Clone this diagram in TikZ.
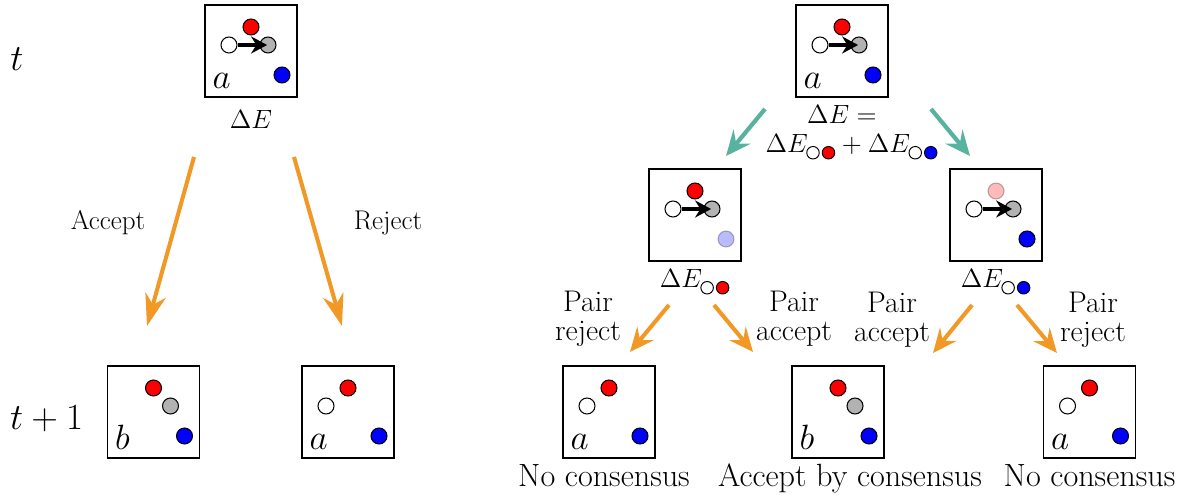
\documentclass[tikz,border=0pt]{standalone}
\usepackage{fix-cm}
\usepackage{amsmath}
\usetikzlibrary{calc}
\usetikzlibrary{arrows.meta}
\tikzset{>=latex}
\definecolor{floworange}{RGB}{242,152,36}
\definecolor{splitteal}{RGB}{88,178,160}
\colorlet{pairgray}{gray!60}

% two small circles used as a subscript
\newcommand{\pairsub}[1]{\tikz[baseline={(0,-0.08)}]{\draw[line width=0.55pt, fill=white] (0,0) circle (0.125); \draw[line width=0.55pt, fill=#1] (0.31,0) circle (0.125);}}

\tikzset{
  panel/.style={draw, line width=0.9pt, minimum size=1.84cm, inner sep=0pt},
  dot/.style={circle, draw, line width=0.6pt, minimum size=0.32cm, inner sep=0pt},
  move/.style={line width=2.2pt, -{Stealth[length=3.2mm, width=3.4mm]}, shorten >=0.5pt},
  bigflow/.style={floworange, line width=2.3pt, -{Stealth[length=6.4mm, width=4.2mm, inset=2mm]}},
  flow/.style={floworange, line width=2.3pt, -{Stealth[length=4.8mm, width=4.2mm, inset=1.7mm]}},
  split/.style={splitteal, line width=2.4pt, -{Stealth[length=5mm, width=4.4mm, inset=1.8mm]}},
  tag/.style={anchor=base west, inner sep=0pt, font=\fontsize{20}{24}\selectfont},
  tlabel/.style={inner sep=0pt, font=\fontsize{21}{25}\selectfont},
  dlabel/.style={anchor=base, inner sep=0pt, font=\fontsize{15}{18}\selectfont},
  choice/.style={inner sep=0pt, font=\fontsize{15.4}{18}\selectfont},
  pairlbl/.style={inner sep=0pt, align=center, font=\fontsize{17}{16.5}\selectfont},
  result/.style={anchor=base, inner sep=0pt, font=\fontsize{18.3}{21}\selectfont}
}

\begin{document}
\begin{tikzpicture}
                \useasboundingbox (0,0) rectangle (23.76,-10);

                % Panels
                \node[panel] (A)  at (5.02,-1.02)  {};
                \node[panel] (R)  at (16.84,-1.02) {};
                \node[panel] (ML) at (13.9,-4.3)   {};
                \node[panel] (MR) at (19.92,-4.3)  {};
                \node[panel] (B1) at (3.07,-8.24)  {};
                \node[panel] (B2) at (6.96,-8.24)  {};
                \node[panel] (C1) at (12.18,-8.24) {};
                \node[panel] (C2) at (16.76,-8.24) {};
                \node[panel] (C3) at (21.79,-8.24) {};

                % Particles
                \foreach \p in {A,R,ML,B1,B2,C1,C2,C3}
                    \node[dot, fill=red] (\p-r) at ($(\p)+(0,0.48)$) {};
                \foreach \p in {A,R,ML,MR,B2,C1,C3}
                    \node[dot, fill=white] (\p-w) at ($(\p)+(-0.44,0.12)$) {};
                \foreach \p in {A,R,ML,MR,B1,C2}
                    \node[dot, fill=pairgray] (\p-g) at ($(\p)+(0.34,0.12)$) {};
                \foreach \p in {A,R,MR,B1,B2,C1,C2,C3}
                    \node[dot, fill=blue] (\p-b) at ($(\p)+(0.62,-0.48)$) {};
                \node[dot, fill=blue, opacity=0.27] (ML-b) at ($(ML)+(0.62,-0.48)$) {};
                \node[dot, fill=red, opacity=0.27] (MR-r) at ($(MR)+(0,0.48)$) {};

                % Proposed move
                \foreach \p in {A,R,ML,MR}
                    \draw[move] (\p-w) -- (\p-g.center);

                % State letters
                \foreach \p/\l in {A/a,R/a,B1/b,B2/a,C1/a,C2/b,C3/a}
                    \node[tag] (\p-l) at ($(\p.south west)+(0.16,0.18)$) {$\l$};

                % Time labels
                \node[tlabel, anchor=base west] (tnow) at (0.2,-1.42) {$t$};
                \node[tlabel, anchor=base] (tnext) at (0.934,-8.58) {$t+1$};

                % Energy labels
                \node[dlabel] (dA) at ($(A.south)+(0,-0.62)$) {$\Delta E$};
                \node[dlabel] (dR) at ($(R.south)+(0,-0.52)$) {$\Delta E =$};
                \node[dlabel] (dRsum) at ($(R.south)+(0.2,-1.1)$)
                    {$\Delta E_{\pairsub{red}} + \Delta E_{\pairsub{blue}}$};
                \node[dlabel] (dML) at ($(ML.south)+(0,-0.52)$) {$\Delta E_{\pairsub{red}}$};
                \node[dlabel] (dMR) at ($(MR.south)+(0,-0.52)$) {$\Delta E_{\pairsub{blue}}$};

                % Left: plain move
                \coordinate (accS) at (3.88,-3.14);
                \coordinate (accE) at (2.94,-6.52);
                \coordinate (rejS) at (5.88,-3.14);
                \coordinate (rejE) at (6.84,-6.52);
                \draw[bigflow] (accS) -- (accE);
                \draw[bigflow] (rejS) -- (rejE);
                \node[choice] (acc) at (2.16,-4.46) {Accept};
                \node[choice] (rej) at (7.76,-4.46) {Reject};

                % Right: split into pairs
                \coordinate (splLS) at (15.3,-2.18);
                \coordinate (splLE) at (14.52,-3.12);
                \coordinate (splRS) at (18.62,-2.18);
                \coordinate (splRE) at (19.4,-3.12);
                \draw[split] (splLS) -- (splLE);
                \draw[split] (splRS) -- (splRE);

                \coordinate (p1S) at (13.38,-6.1);
                \coordinate (p1E) at (12.6,-7.04);
                \coordinate (p2S) at (14.28,-6.1);
                \coordinate (p2E) at (15.06,-7.04);
                \coordinate (p3S) at (19.44,-6.1);
                \coordinate (p3E) at (18.66,-7.06);
                \coordinate (p4S) at (20.34,-6.1);
                \coordinate (p4E) at (21.14,-7.06);
                \draw[flow] (p1S) -- (p1E);
                \draw[flow] (p2S) -- (p2E);
                \draw[flow] (p3S) -- (p3E);
                \draw[flow] (p4S) -- (p4E);

                \node[pairlbl] (pl1) at (11.76,-6.38) {Pair\\reject};
                \node[pairlbl] (pl2) at (15.88,-6.38) {Pair\\accept};
                \node[pairlbl] (pl3) at (17.84,-6.4)  {Pair\\accept};
                \node[pairlbl] (pl4) at (21.86,-6.4)  {Pair\\reject};

                % Outcomes
                \node[result] (o1) at ($(C1.south)+(-0.1,-0.56)$) {No consensus};
                \node[result] (o2) at ($(C2.south)+(0.24,-0.56)$) {Accept by consensus};
                \node[result] (o3) at ($(C3.south)+(0,-0.56)$)    {No consensus};
            \end{tikzpicture}
\end{document}
